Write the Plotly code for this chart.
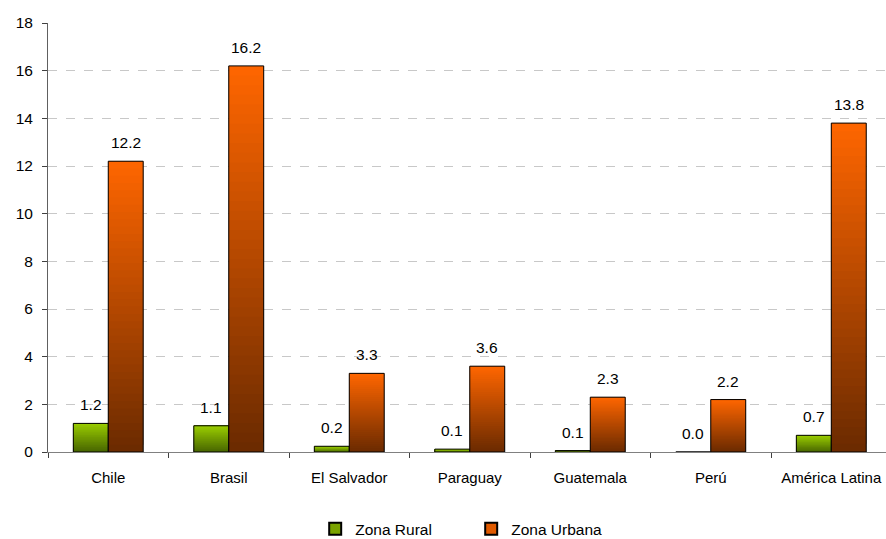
import plotly.graph_objects as go

categories = ["Chile", "Brasil", "El Salvador", "Paraguay", "Guatemala", "Perú", "América Latina"]
rural = [1.2, 1.1, 0.24, 0.12, 0.06, 0.0, 0.7]
urbana = [12.2, 16.2, 3.3, 3.6, 2.3, 2.2, 13.8]
series_names = ["Zona Rural", "Zona Urbana"]
y_ticks = [0, 2, 4, 6, 8, 10, 12, 14, 16, 18]

FONT = "Liberation Sans, Arial, sans-serif"
FS = 15.5
N_SEG = 40
BW = 0.29


def lerp(c1, c2, t):
    return "rgb(%d,%d,%d)" % tuple(round(a + (b - a) * t) for a, b in zip(c1, c2))


fig = go.Figure()

series = [
    (rural, (0x99, 0xCC, 0x00), (0x45, 0x62, 0x00), -BW, "#7aa300"),
    (urbana, (0xFF, 0x66, 0x00), (0x6A, 0x2A, 0x00), 0.0, "#e05a00"),
]

for (vals, top, bot, off, legcol), name in zip(series, series_names):
    # vertical gradient: overlapping stacked slices, bottom (dark) to top (light)
    for k in range(N_SEG):
        t = (k + 0.5) / N_SEG
        frac = 1.0 / N_SEG if k == N_SEG - 1 else 2.0 / N_SEG
        fig.add_trace(go.Bar(
            x=categories,
            y=[min(v * frac, v - v * k / N_SEG) for v in vals],
            base=[v * k / N_SEG for v in vals],
            width=BW, offset=off,
            marker=dict(color=lerp(bot, top, t), line=dict(width=0)),
            showlegend=False, hoverinfo="skip",
        ))
    # outline
    fig.add_trace(go.Bar(
        x=categories, y=vals, width=BW, offset=off,
        marker=dict(color="rgba(0,0,0,0)", line=dict(color="#000000", width=1)),
        showlegend=False, hoverinfo="skip",
    ))
    # legend entry
    fig.add_trace(go.Bar(
        x=[None], y=[None], name=name,
        marker=dict(color=legcol, line=dict(color="#000000", width=1)),
    ))

annotations = []
for i, cat in enumerate(categories):
    for vals, shift in ((rural, -BW / 2), (urbana, BW / 2)):
        annotations.append(dict(
            x=i + shift, y=vals[i], xref="x", yref="y",
            text="%.1f" % vals[i], showarrow=False,
            yanchor="bottom", yshift=8,
            font=dict(family=FONT, size=FS, color="#000000"),
        ))

fig.update_layout(
    width=886, height=539,
    barmode="overlay",
    plot_bgcolor="white", paper_bgcolor="white",
    margin=dict(l=48, r=0, t=23, b=87, autoexpand=False),
    font=dict(family=FONT, size=FS, color="#000000"),
    annotations=annotations,
    legend=dict(
        orientation="h", x=0.505, xanchor="center", y=-0.18, yanchor="middle",
        font=dict(family=FONT, size=FS, color="#000000"),
        entrywidth=111, itemsizing="constant",
    ),
    xaxis=dict(
        type="category", range=[-0.5, 6.454], automargin=False,
        showline=True, linecolor="#808080", linewidth=1,
        ticks="outside", tickson="boundaries", ticklen=5, tickcolor="#404040",
        ticklabelstandoff=12,
        showgrid=False, tickfont=dict(family=FONT, size=15),
    ),
    yaxis=dict(
        range=[0, 18], tickvals=y_ticks, automargin=False,
        showline=True, linecolor="#606060", linewidth=1,
        ticks="outside", ticklen=5, tickcolor="#404040",
        ticklabelstandoff=6,
        showgrid=True, gridcolor="#c8c8c8", griddash="dash", gridwidth=1,
        zeroline=False, tickfont=dict(family=FONT, size=FS),
    ),
)

fig.write_html(
    "out.html",
    config={"displayModeBar": False},
    post_script="document.body.style.margin='0';",
)
